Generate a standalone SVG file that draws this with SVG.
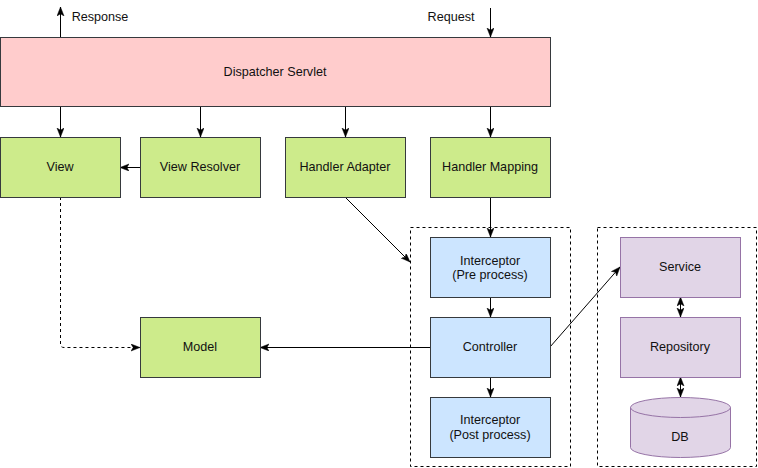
<svg xmlns="http://www.w3.org/2000/svg" width="758" height="468" viewBox="0 0 758 468">
<style>
text{font-family:"Liberation Sans",Arial,sans-serif;font-size:12.6px;fill:#111;text-anchor:middle;dominant-baseline:central}
.red{fill:#ffcccc;stroke:#36393d;stroke-width:1}
.green{fill:#cdeb8b;stroke:#36393d;stroke-width:1}
.blue{fill:#cce5ff;stroke:#36393d;stroke-width:1}
.purple{fill:#e1d5e7;stroke:#9673a6;stroke-width:1}
.box{fill:none;stroke:#000;stroke-width:1;stroke-dasharray:3 3}
.c{fill:none;stroke:#000;stroke-width:1}
.a{marker-end:url(#arr)}
.d{marker-start:url(#arr);marker-end:url(#arr)}
.dash{stroke-dasharray:3 3}
</style>
<defs>
<marker id="arr" markerUnits="userSpaceOnUse" markerWidth="10" markerHeight="8" refX="9" refY="3.5" orient="auto-start-reverse" viewBox="0 0 10 8">
<path d="M0,0 L9,3.5 L0,7 L2.2,3.5 Z" fill="#000" stroke="#000" stroke-width="0.5"/>
</marker>
</defs>
<rect width="758" height="468" fill="#fff"/>
<g id="containers">
<rect id="group-web" class="box" x="410.5" y="227.5" width="160" height="239"/>
<rect id="group-business" class="box" x="597.5" y="227.5" width="159" height="239"/>
</g>
<g id="connectors">
<path class="c a" d="M60.5,37 L60.5,7"/>
<path class="c a" d="M490.5,8 L490.5,37"/>
<path class="c a" d="M60.5,107 L60.5,137"/>
<path class="c a" d="M200.5,107 L200.5,137"/>
<path class="c a" d="M345.5,107 L345.5,137"/>
<path class="c a" d="M490.5,107 L490.5,137"/>
<path class="c a" d="M140,167.5 L120,167.5"/>
<path class="c a" d="M490.5,197 L490.5,237"/>
<path class="c a" d="M345,197 L410,262"/>
<path class="c a" d="M490.5,297 L490.5,317"/>
<path class="c a" d="M490.5,377 L490.5,397"/>
<path class="c a" d="M430,347.5 L260,347.5"/>
<path class="c a" d="M550,347 L620,267"/>
<path class="c d" d="M680.5,297 L680.5,317"/>
<path class="c d" d="M680.5,377 L680.5,397"/>
<path class="c a dash" d="M60.5,197 L60.5,344 Q60.5,347.5 64,347.5 L140,347.5"/>
</g>
<g id="labels">
<text x="100" y="17">Response</text>
<text x="451" y="17">Request</text>
</g>
<g id="dispatcher-servlet">
<rect class="red" x="0.5" y="37.5" width="550" height="69"/>
<text x="275" y="72">Dispatcher Servlet</text>
</g>
<g id="view">
<rect class="green" x="0.5" y="137.5" width="120" height="60"/>
<text x="60" y="167">View</text>
</g>
<g id="view-resolver">
<rect class="green" x="140.5" y="137.5" width="120" height="60"/>
<text x="200" y="167">View Resolver</text>
</g>
<g id="handler-adapter">
<rect class="green" x="285.5" y="137.5" width="120" height="60"/>
<text x="345" y="167">Handler Adapter</text>
</g>
<g id="handler-mapping">
<rect class="green" x="430.5" y="137.5" width="120" height="60"/>
<text x="490" y="167">Handler Mapping</text>
</g>
<g id="model">
<rect class="green" x="140.5" y="317.5" width="120" height="60"/>
<text x="200" y="347">Model</text>
</g>
<g id="interceptor-pre">
<rect class="blue" x="430.5" y="237.5" width="120" height="60"/>
<text x="490" y="261">Interceptor</text>
<text x="490" y="275">(Pre process)</text>
</g>
<g id="controller">
<rect class="blue" x="430.5" y="317.5" width="120" height="60"/>
<text x="490" y="347">Controller</text>
</g>
<g id="interceptor-post">
<rect class="blue" x="430.5" y="397.5" width="120" height="60"/>
<text x="490" y="420">Interceptor</text>
<text x="490" y="434.5">(Post process)</text>
</g>
<g id="service">
<rect class="purple" x="620.5" y="237.5" width="120" height="60"/>
<text x="680" y="267">Service</text>
</g>
<g id="repository">
<rect class="purple" x="620.5" y="317.5" width="120" height="60"/>
<text x="680" y="347">Repository</text>
</g>
<g id="db">
<path class="purple" d="M630.5,407.5 A50,10 0 0 1 730.5,407.5 L730.5,447.5 A50,10 0 0 1 630.5,447.5 Z"/>
<path class="purple" style="fill:none" d="M630.5,407.5 A50,10 0 0 0 730.5,407.5"/>
<text x="680" y="437">DB</text>
</g>
</svg>
